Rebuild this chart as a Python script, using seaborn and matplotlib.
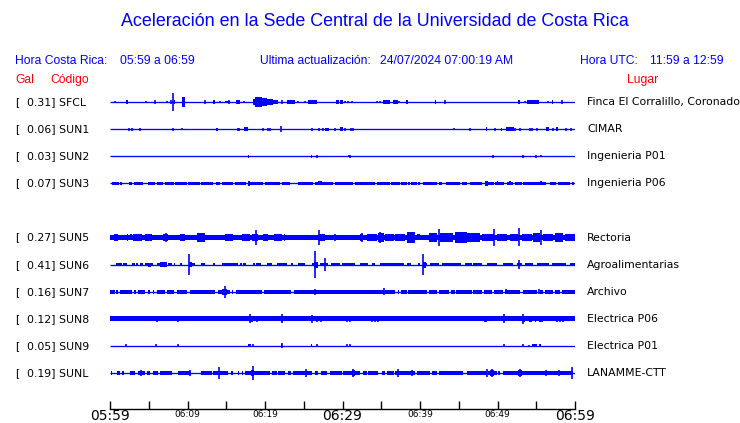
import numpy as np
import matplotlib
matplotlib.use("Agg")
import matplotlib.pyplot as plt
import seaborn as sns

# ---- header texts ----
title = "Aceleración en la Sede Central de la Universidad de Costa Rica"
hora_cr = "05:59 a 06:59"
ultima = "24/07/2024 07:00:19 AM"
hora_utc = "11:59 a 12:59"
time_labels = ["05:59", "06:09", "06:19", "06:29", "06:39", "06:49", "06:59"]

# ---- stations (SUN4 has no data) ----
codes = ["SFCL", "SUN1", "SUN2", "SUN3", "SUN4", "SUN5", "SUN6", "SUN7", "SUN8", "SUN9", "SUNL"]
gal = [0.31, 0.06, 0.03, 0.07, None, 0.27, 0.41, 0.16, 0.12, 0.05, 0.19]
lugares = ["Finca El Corralillo, Coronado", "CIMAR", "Ingenieria P01", "Ingenieria P06", "",
           "Rectoria", "Agroalimentarias", "Archivo", "Electrica P06", "Electrica P01", "LANAMME-CTT"]
# half thickness of the background noise band (px)
noise = [0, 0, 0, 1.3, 0, 2.0, 1.4, 1.7, 2.0, 0, 1.6]

# noise band segments (minutes from 05:59)
sun3_segs = [(0.2, 1.1), (1.3, 1.6), (2.4, 2.9), (3.1, 4.3), (4.9, 5.8), (6.0, 6.9), (7.1, 8.2),
             (8.4, 9.9), (10.1, 11.6), (11.8, 13.3), (13.7, 14.2), (14.4, 15.9), (16.1, 17.6),
             (17.8, 19.8), (20.0, 21.9), (22.2, 23.2), (24.2, 26.2), (26.5, 28.8), (29.0, 31.4),
             (31.6, 34.2), (34.4, 36.1), (36.3, 37.4), (37.6, 38.3), (38.5, 38.7), (38.9, 39.6),
             (39.8, 40.0), (40.4, 42.2), (42.4, 42.8), (43.4, 45.2), (45.4, 46.0), (46.5, 48.0),
             (48.4, 49.5), (49.7, 50.8), (51.2, 52.0), (52.3, 53.1), (53.3, 56.3), (56.8, 57.6),
             (57.8, 59.4), (59.6, 59.9)]
sun6_segs = [(0.73, 1.5), (1.72, 2.15), (2.8, 3.2), (3.4, 3.65), (3.87, 4.3), (4.5, 5.6), (6.0, 7.3),
             (7.5, 7.96), (8.2, 8.4), (9.0, 9.25), (10.3, 11.0), (11.8, 12.26), (13.3, 13.55),
             (14.4, 16.56), (16.8, 17.0), (17.2, 17.6), (18.5, 18.7), (18.9, 19.5), (20.2, 20.9),
             (21.5, 22.9), (23.4, 23.65), (24.2, 25.2), (26.0, 26.9), (27.1, 28.1), (28.5, 29.7),
             (29.9, 31.6), (32.3, 33.3), (33.8, 34.2), (34.8, 37.9), (38.3, 38.9), (39.8, 40.0),
             (40.4, 40.9), (41.3, 42.4), (42.8, 45.25), (45.8, 46.7), (46.9, 48.0), (48.6, 49.9),
             (50.75, 52.0), (52.5, 53.1), (53.55, 54.6), (55.05, 56.6), (57.0, 58.9), (59.3, 60.0)]
sun7_segs = [(0.0, 0.65), (0.8, 1.0), (1.3, 2.8), (3.1, 3.4), (3.6, 4.5), (4.86, 5.16), (5.5, 5.72),
             (6.0, 7.1), (7.3, 8.3), (8.6, 9.9), (10.3, 13.55), (13.9, 15.5), (15.7, 15.9),
             (16.3, 19.6), (19.9, 23.4), (23.7, 35.3), (35.5, 36.8), (37.1, 37.3), (37.6, 38.3),
             (38.5, 40.9), (41.1, 42.2), (42.5, 43.7), (44.0, 44.5), (44.7, 46.7), (46.9, 48.0),
             (48.2, 49.3), (49.5, 50.75), (51.0, 52.9), (53.3, 55.05), (55.5, 55.9), (56.1, 57.2),
             (57.4, 58.0), (58.3, 60.0)]
sunl_segs = [(0.13, 0.3), (0.86, 1.29), (1.5, 1.85), (2.58, 3.2), (3.66, 4.5), (4.8, 5.16),
             (5.6, 6.24), (6.45, 7.96), (8.8, 10.5), (11.8, 13.1), (13.3, 15.27), (15.6, 15.9),
             (16.5, 16.65), (17.0, 17.2), (17.4, 20.65), (20.86, 21.5), (21.7, 22.6), (23.0, 23.4),
             (23.65, 26.0), (26.45, 26.9), (27.2, 27.96), (28.4, 29.9), (30.1, 32.3), (32.7, 33.1),
             (33.3, 34.6), (35.1, 35.5), (35.8, 36.6), (36.8, 39.4), (39.6, 41.3), (41.6, 42.15),
             (42.4, 45.6), (46.0, 48.6), (48.8, 49.9), (50.1, 50.3), (50.75, 59.8)]
full = [(0.0, 60.0)]
segments = [[], [], [], sun3_segs, [], full, sun6_segs, sun7_segs, full, [], sunl_segs]

# bursts: (start, end, half amplitude px)
sfcl_bursts = [(2.0, 2.3, 1.3), (8.2, 8.4, 1.5), (9.35, 9.65, 4.5), (13.3, 13.6, 1.3), (14.8, 15.5, 1.2),
               (16.3, 16.8, 1.5), (18.4, 18.7, 2.5), (18.7, 19.6, 4.5), (19.6, 20.3, 3.3),
               (20.3, 21.0, 2.5), (21.0, 21.7, 1.7), (22.8, 23.9, 1.3), (25.5, 26.7, 1.5),
               (29.2, 29.5, 2.0), (29.7, 30.0, 1.5), (35.2, 36.1, 1.7), (36.5, 37.1, 1.7),
               (38.2, 38.5, 1.7), (41.9, 42.1, 1.5), (52.7, 52.9, 1.5), (53.85, 55.4, 1.7),
               (57.0, 57.2, 1.7)]
sun1_bursts = [(13.7, 13.9, 1.3), (17.3, 17.85, 1.7), (27.8, 28.3, 1.3), (29.7, 30.1, 2.0),
               (48.5, 48.7, 1.5), (50.4, 50.6, 1.3), (51.1, 52.1, 1.7), (56.3, 56.6, 1.5),
               (57.5, 57.8, 2.0)]
sun2_bursts = [(17.8, 18.0, 1.3), (25.9, 26.1, 1.3)]
sun3_bursts = [(17.85, 18.06, 1.9), (26.9, 27.4, 1.8), (48.4, 48.8, 1.9), (49.9, 50.1, 1.8),
               (51.5, 51.7, 1.7), (55.5, 55.7, 1.7)]
sun5_bursts = [(0.0, 0.43, 2.0), (0.56, 1.07, 3.2), (1.5, 1.94, 2.0), (2.15, 2.37, 3.0),
               (2.58, 2.8, 2.5), (3.0, 4.1, 2.7), (4.5, 5.4, 3.0), (5.6, 6.24, 2.3), (6.9, 7.5, 3.3),
               (7.96, 8.6, 2.3), (9.0, 9.7, 3.0), (10.1, 11.0, 2.3), (11.2, 12.26, 3.5),
               (12.9, 13.55, 2.3), (14.0, 14.4, 2.0), (14.8, 15.9, 3.0), (17.0, 18.1, 3.0),
               (18.3, 19.1, 3.0), (19.8, 20.4, 2.7), (21.1, 22.15, 2.7), (22.4, 22.6, 3.0),
               (22.8, 23.4, 2.3), (23.65, 26.0, 2.3), (26.9, 27.7, 3.0), (28.2, 29.5, 2.3),
               (29.9, 30.3, 2.3), (30.5, 31.8, 2.0), (32.3, 32.7, 3.3), (33.1, 34.4, 2.7),
               (34.6, 35.3, 4.0), (35.5, 36.6, 3.0), (36.8, 38.1, 3.3), (38.3, 39.4, 4.3),
               (39.6, 40.0, 2.5), (41.1, 42.2, 3.7), (42.6, 44.3, 3.5), (44.5, 46.0, 4.7),
               (46.0, 47.7, 3.7), (48.0, 49.5, 3.3), (49.9, 51.2, 3.3), (51.6, 52.7, 3.3),
               (53.1, 54.4, 3.3), (54.6, 55.5, 4.0), (55.9, 57.2, 3.3), (57.4, 58.5, 3.7),
               (58.7, 60.0, 3.0)]
sun6_bursts = [(4.9, 5.3, 1.7), (6.4, 7.3, 2.0), (10.2, 10.6, 2.0), (26.3, 26.9, 2.5), (40.4, 40.8, 2.5)]
sun7_bursts = [(14.5, 15.1, 2.5)]
sun8_bursts = [(5.9, 6.1, 2.7), (18.1, 18.5, 2.5), (22.1, 22.3, 2.5), (48.3, 48.7, 2.3),
               (53.2, 53.5, 2.5), (54.1, 54.4, 2.3), (54.8, 55.0, 2.5), (55.3, 55.9, 2.7)]
sun9_bursts = [(17.85, 18.2, 1.3), (22.05, 22.25, 1.7), (25.9, 26.1, 1.3), (54.5, 55.05, 1.2),
               (55.4, 55.6, 1.3)]
sunl_bursts = [(3.8, 4.2, 1.8), (18.2, 18.6, 2.3), (25.1, 25.5, 2.0), (31.2, 31.6, 2.5),
               (49.0, 49.5, 2.3), (52.7, 53.1, 2.5)]
bursts = [sfcl_bursts, sun1_bursts, sun2_bursts, sun3_bursts, [], sun5_bursts, sun6_bursts,
          sun7_bursts, sun8_bursts, sun9_bursts, sunl_bursts]

# spikes: (minute, half amplitude px)
sfcl_spikes = [(0.65, 1.0), (4.65, 1.0), (5.8, 1.5), (7.3, 1.0), (7.87, 1.3), (8.17, 7.5),
               (12.26, 1.3), (14.2, 1.0), (15.3, 1.5), (17.3, 1.2), (22.15, 1.3), (24.2, 1.2),
               (25.2, 1.2), (29.8, 1.5), (30.3, 1.0), (30.75, 1.2), (31.2, 1.2), (34.5, 1.0),
               (34.8, 1.2), (37.3, 1.2), (43.2, 1.5), (53.6, 1.0), (56.5, 1.2), (58.3, 1.3)]
sun1_spikes = [(2.5, 1.3), (2.9, 1.3), (3.9, 1.3), (8.1, 1.2), (9.25, 1.0), (16.5, 1.3), (16.7, 1.3),
               (19.8, 1.3), (20.35, 1.2), (20.7, 1.3), (22.1, 2.3), (26.1, 1.2), (27.0, 1.3),
               (27.5, 1.3), (29.0, 1.2), (30.3, 1.3), (31.1, 1.3), (31.3, 1.3), (44.4, 0.8),
               (46.4, 1.3), (49.7, 1.3), (52.3, 1.2), (52.9, 1.2), (54.2, 1.2), (54.5, 1.3),
               (55.1, 1.2), (57.1, 1.3), (58.9, 1.2), (59.5, 1.2)]
sun2_spikes = [(26.7, 1.3), (30.8, 1.0), (31.0, 1.2), (49.4, 1.3), (53.25, 1.2), (55.0, 1.3), (55.6, 1.0)]
sun3_spikes = []
sun5_spikes = [(7.2, 4.0), (11.6, 4.0), (18.9, 6.3), (27.0, 6.0), (29.0, 3.3), (32.5, 4.0),
               (34.8, 4.5), (38.7, 4.3), (42.4, 7.0), (49.6, 7.0), (52.8, 7.5), (55.6, 6.0)]
sun6_spikes = [(10.2, 9.0), (26.5, 11.5), (27.7, 5.5), (40.4, 9.0), (52.8, 4.0)]
sun7_spikes = [(14.8, 5.0), (26.4, 2.5), (35.4, 3.0), (51.1, 2.0), (55.3, 2.3)]
sun8_spikes = [(6.0, 2.7), (8.8, 2.3), (10.4, 2.0), (13.5, 2.0), (18.0, 3.7), (19.0, 2.5),
               (22.2, 3.7), (26.1, 3.3), (26.75, 2.5), (27.2, 2.5), (30.6, 2.5), (31.0, 2.5),
               (33.8, 2.5), (34.2, 2.5), (34.6, 2.3), (50.9, 3.7), (53.3, 4.0), (57.7, 2.3),
               (58.0, 2.3), (58.4, 2.3), (59.4, 2.0)]
sun9_spikes = [(2.1, 1.3), (5.9, 1.3), (8.8, 1.3), (18.4, 1.3), (22.15, 2.0), (26.7, 1.2),
               (30.6, 1.3), (31.0, 1.3), (50.9, 1.3), (53.3, 1.3), (54.0, 1.0)]
sunl_spikes = [(4.0, 2.5), (10.3, 2.5), (14.0, 4.7), (18.4, 5.5), (25.3, 3.3), (31.4, 3.0),
               (37.1, 3.0), (39.0, 2.3), (48.7, 3.0), (49.3, 3.7), (52.9, 3.7), (56.2, 2.7),
               (57.9, 2.7), (59.6, 5.3)]
spikes = [sfcl_spikes, sun1_spikes, sun2_spikes, sun3_spikes, [], sun5_spikes, sun6_spikes,
          sun7_spikes, sun8_spikes, sun9_spikes, sunl_spikes]

BLUE = "#0000FF"
RED = "#FF0000"
W, H = 740, 423
AMP = 1.2  # display gain for trace amplitudes

sns.set_theme(style="white")
plt.rcParams["font.family"] = ["DejaVu Sans"]

fig = plt.figure(figsize=(W / 100, H / 100), dpi=100)
fig.patch.set_facecolor("white")

# main trace axes: x in minutes, y in pixel rows
ax = fig.add_axes([110 / W, 0, 465 / W, 1])
ax.set_xlim(0, 60)
ax.set_ylim(H, 0)
ax.axis("off")


def fx(px):
    return px / W


def fy(py):
    return 1 - py / H


def add_bars(ax, y, rows, amp=None):
    r = np.array(rows, dtype=float)
    a = (r[:, 2] if amp is None else np.full(len(r), amp)) * AMP
    ax.bar(x=(r[:, 0] + r[:, 1]) / 2, height=2 * a, width=r[:, 1] - r[:, 0], bottom=y - a,
           color=BLUE, linewidth=0, align="center")


lab_font = dict(family="DejaVu Sans", fontsize=7.8)
for i, code in enumerate(codes):
    if gal[i] is None:
        continue
    y = 102 + 27.1 * i
    ax.hlines(y, 0, 60, color=BLUE, lw=0.95)
    if noise[i] > 0 and segments[i]:
        add_bars(ax, y, segments[i], amp=noise[i])
    if bursts[i]:
        add_bars(ax, y, bursts[i])
    if spikes[i]:
        p = np.array(spikes[i])
        ax.vlines(p[:, 0], y - p[:, 1] * AMP, y + p[:, 1] * AMP, color=BLUE, lw=1.2)
    # labels
    fig.text(fx(15), fy(y), "[", ha="left", va="center", color="black", **lab_font)
    fig.text(fx(27), fy(y), f"{gal[i]:.2f}] {code}", ha="left", va="center", color="black", **lab_font)
    fig.text(fx(587), fy(y), lugares[i], ha="left", va="center", color="black", **lab_font)

# header
hdr = dict(family="Liberation Sans", color=BLUE)
fig.text(fx(375), fy(22), title, ha="center", va="center", fontsize=12.9, **hdr)
fig.text(fx(15), fy(61), "Hora Costa Rica:", ha="left", va="center", fontsize=8.7, **hdr)
fig.text(fx(120), fy(61), hora_cr, ha="left", va="center", fontsize=8.7, **hdr)
fig.text(fx(260), fy(61), "Ultima actualización:", ha="left", va="center", fontsize=8.7, **hdr)
fig.text(fx(380), fy(61), ultima, ha="left", va="center", fontsize=8.7, **hdr)
fig.text(fx(580), fy(61), "Hora UTC:", ha="left", va="center", fontsize=8.7, **hdr)
fig.text(fx(650), fy(61), hora_utc, ha="left", va="center", fontsize=8.7, **hdr)
red = dict(family="Liberation Sans", color=RED, fontsize=8.7, va="center", ha="left")
fig.text(fx(15), fy(80), "Gal", **red)
fig.text(fx(50), fy(80), "Código", **red)
fig.text(fx(627), fy(80), "Lugar", **red)

# time axis
ax_t = fig.add_axes([110 / W, 1 - 409 / H, 465 / W, 0.02])
ax_t.set_xlim(0, 60)
ax_t.set_yticks([])
ax_t.patch.set_alpha(0)
sns.despine(ax=ax_t, left=True, top=True, right=True)
ax_t.spines["bottom"].set_color("black")
ax_t.spines["bottom"].set_linewidth(1.0)
ax_t.set_xticks(np.arange(0, 61, 10))
ax_t.set_xticklabels(time_labels)
ax_t.set_xticks(np.arange(5, 60, 10), minor=True)
ax_t.tick_params(axis="x", which="both", direction="in", length=6, width=1.0, color="black",
                 pad=0, bottom=True)
for j, t in enumerate(ax_t.get_xticklabels()):
    t.set_family("DejaVu Sans")
    t.set_color("black")
    if j % 3 == 0:
        t.set_fontsize(10)
    else:
        t.set_fontsize(6.5)
        t.set_y(-0.15)

fig.savefig("out.png", dpi=100, facecolor="white")
